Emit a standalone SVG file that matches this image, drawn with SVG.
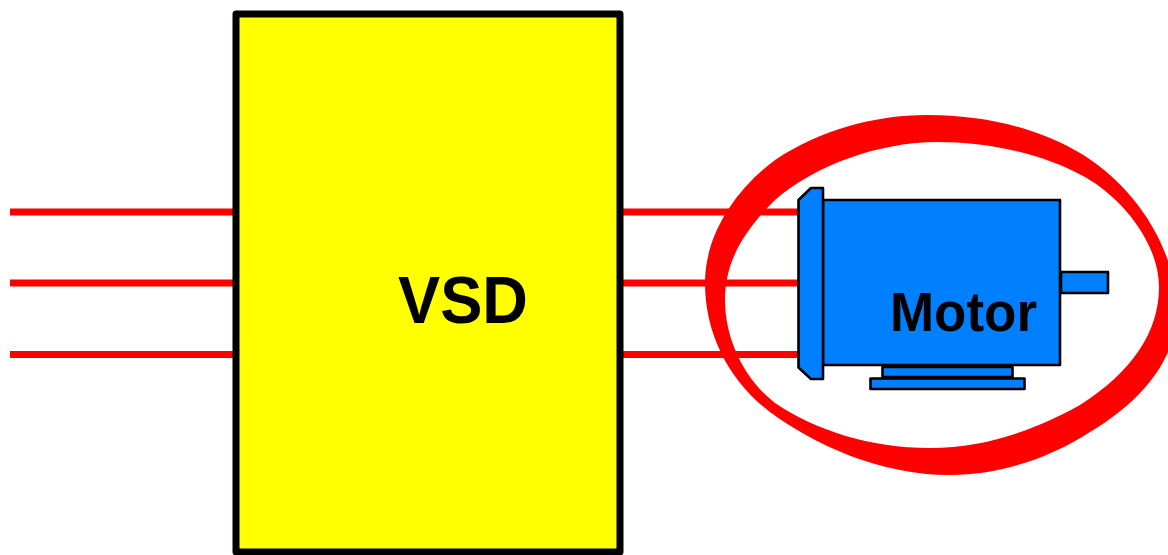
<svg xmlns="http://www.w3.org/2000/svg" width="1168" height="555" viewBox="0 0 1168 555">
<style>
.w{stroke:#ff0000;stroke-width:7;fill:none}
.m{fill:#0080ff;stroke:#000;stroke-width:2.600;stroke-linejoin:round}
text{font-family:"Liberation Sans",Arial,sans-serif;font-weight:bold;fill:#000}
</style>
<rect width="1168" height="555" fill="#fff"/>
<g id="connectors">
<path class="w" d="M10 212H236M10 283H236M10 354.500H236M620 212H800M620 283H800M620 354.500H800"/>
</g>
<g id="vsd">
<path d="M236 14H620V552H236Z" fill="#ffff00" stroke="#000" stroke-width="7" stroke-linejoin="round"/>
<text x="398" y="323" font-size="67" textLength="130" lengthAdjust="spacingAndGlyphs">VSD</text>
</g>
<g id="ring">
<path fill="#ff0000" fill-rule="evenodd" d="M927 115C985 115 1040 128 1085 156C1125 182 1160 225 1172 275C1190 335 1160 390 1090 432C1050 458 1000 475 950 475C880 475 815 445 770 412C730 382 705 335 705 283C705 235 735 190 775 160C820 130 875 115 927 115ZM937 142C985 142 1040 152 1085 177C1125 200 1159 245 1159 287C1159 332 1132 372 1080 405C1035 430 985 448 930 448C870 448 815 430 775 403C745 380 725 340 725 300C725 260 745 230 775 200C815 165 880 142 937 142Z"/>
</g>
<g id="motor">
<rect class="m" x="882.500" y="367" width="130" height="10"/>
<rect class="m" x="870.500" y="378.500" width="154" height="10.500"/>
<rect class="m" x="1061" y="272" width="47" height="21"/>
<rect class="m" x="823" y="200" width="237" height="165"/>
<path class="m" d="M798.500 200L811 188H823V379H811L798.500 367.500Z"/>
<text x="890" y="331" font-size="55.500" textLength="147" lengthAdjust="spacingAndGlyphs">Motor</text>
</g>
</svg>
